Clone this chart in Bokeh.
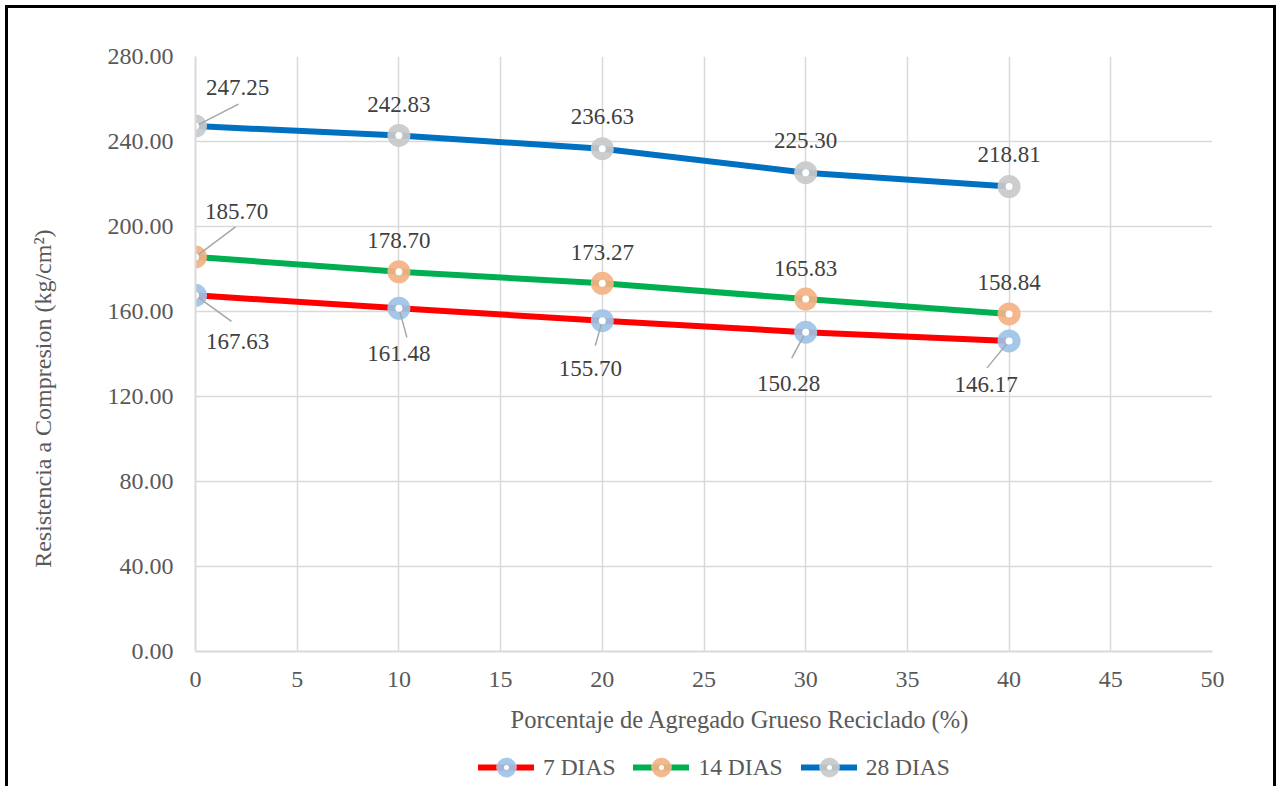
import math
from bokeh.plotting import figure
from bokeh.layouts import column, row
from bokeh.models import (Range1d, Legend, LegendItem, FixedTicker, NumeralTickFormatter,
                          ColumnDataSource)
from bokeh.core.properties import value
from bokeh.embed import file_html
from bokeh.resources import INLINE

# ---------------- data ----------------
pct = [0, 10, 20, 30, 40]
d7 = [167.63, 161.48, 155.70, 150.28, 146.17]
d14 = [185.70, 178.70, 173.27, 165.83, 158.84]
d28 = [247.25, 242.83, 236.63, 225.30, 218.81]
series_names = ["7 DIAS", "14 DIAS", "28 DIAS"]
x_ticks = [0, 5, 10, 15, 20, 25, 30, 35, 40, 45, 50]
y_ticks = [0, 40, 80, 120, 160, 200, 240, 280]
x_title = "Porcentaje de Agregado Grueso Reciclado (%)"
y_title = "Resistencia a Compresion (kg/cm²)"

# ---------------- styles ----------------
line_colors = ["#FF0000", "#00B050", "#0070C0"]
marker_colors = ["#9DC3E6", "#F4B183", "#C9C9C9"]
# label offsets in screen pixels (dx, dy; dy positive = down)
label_offsets = [
    [(42, 46), (0, 45), (-12, 48), (-17, 51), (-23, 44)],
    [(41, -45), (0, -31), (0, -31), (0, -31), (0, -31)],
    [(42, -39), (0, -31), (0, -32), (0, -32), (0, -32)],
]
# leader-line end offsets in pixels (None = no leader)
leader_offsets = [
    [(36, 26), (8, 29), (-7, 25), (-14, 26), (-22, 27)],
    [(40, -30), None, None, None, None],
    [(43, -22), None, None, None, None],
]
FONT = "Liberation Serif"

TW = 60                      # width of the y-title strip
W, H = 1211, 693
ML, MR, MT, MB = 130, 64, 48, 50
fw, fh = 1017, 595
px_x = fw / 50.0
px_y = fh / 280.0

yr = Range1d(0, 280)
p = figure(width=W, height=H, x_range=Range1d(0, 50), y_range=yr,
           output_backend="svg", toolbar_location=None,
           min_border_left=ML, min_border_right=MR, min_border_top=MT, min_border_bottom=MB)
p.styles = {"border-top": "3px solid black", "border-right": "3px solid black",
            "margin-top": "5px"}
p.outline_line_color = None
p.background_fill_color = "white"
p.border_fill_color = "white"

p.xaxis.ticker = FixedTicker(ticks=x_ticks)
p.yaxis.ticker = FixedTicker(ticks=y_ticks)
p.yaxis.formatter = NumeralTickFormatter(format="0.00")
for ax in (p.xaxis, p.yaxis):
    ax.major_tick_line_color = None
    ax.minor_tick_line_color = None
    ax.major_tick_out = 0
    ax.minor_tick_out = 0
    ax.axis_line_color = "#D9D9D9"
    ax.axis_line_width = 2
    ax.major_label_text_font = FONT
    ax.major_label_text_font_size = "24px"
    ax.major_label_text_color = "#595959"
p.xaxis.major_label_standoff = 20
p.yaxis.major_label_standoff = 22
p.xgrid.ticker = FixedTicker(ticks=x_ticks)
p.ygrid.ticker = FixedTicker(ticks=y_ticks)
for g in (p.xgrid, p.ygrid):
    g.grid_line_color = "#D9D9D9"
    g.grid_line_width = 1.5

series = [d7, d14, d28]
for i, ys in enumerate(series):
    p.line(pct, ys, line_color=line_colors[i], line_width=6)
for i, ys in enumerate(series):
    p.scatter(pct, ys, size=23, fill_color=marker_colors[i], line_color=None, fill_alpha=0.92)
# leader lines
for i, ys in enumerate(series):
    x0, y0, x1, y1 = [], [], [], []
    for j, (xv, yv) in enumerate(zip(pct, ys)):
        lo = leader_offsets[i][j]
        if lo is None:
            continue
        x0.append(xv); y0.append(yv)
        x1.append(xv + lo[0] / px_x); y1.append(yv - lo[1] / px_y)
    if x0:
        p.segment(x0=x0, y0=y0, x1=x1, y1=y1, line_color="#A6A6A6", line_width=1.5)
for i, ys in enumerate(series):
    p.scatter(pct, ys, size=7, fill_color="white", line_color=None)
# data labels
for i, ys in enumerate(series):
    src = ColumnDataSource(dict(
        x=pct, y=ys, t=[f"{v:.2f}" for v in ys],
        xo=[o[0] for o in label_offsets[i]], yo=[o[1] for o in label_offsets[i]]))
    p.text(x="x", y="y", text="t", x_offset="xo", y_offset="yo", source=src,
           text_font=value(FONT), text_font_size="23px", text_color="#404040",
           text_align="center", text_baseline="middle")

# ---------------- y-title strip ----------------
pt = figure(width=TW, height=H, output_backend="svg", toolbar_location=None,
            x_range=Range1d(0, TW), y_range=yr, x_axis_type=None, y_axis_type=None,
            min_border_left=0, min_border_right=0, min_border_top=MT, min_border_bottom=MB)
pt.styles = {"border-left": "3px solid black", "border-top": "3px solid black",
             "margin-left": "5px", "margin-top": "5px"}
pt.outline_line_color = None
pt.grid.visible = False
pt.text(x=[34], y=[119], text=[y_title], angle=math.pi / 2,
        text_font=value(FONT), text_font_size="24px", text_color="#595959",
        text_align="center", text_baseline="middle")

# ---------------- x-title + legend strip ----------------
H2 = 789 - 8 - H
p2 = figure(width=1271, height=H2, output_backend="svg", toolbar_location=None,
            x_range=Range1d(0, 1), y_range=Range1d(0, 1),
            x_axis_type=None, y_axis_type=None,
            min_border_left=0, min_border_right=0, min_border_top=0, min_border_bottom=0)
p2.styles = {"border-left": "3px solid black", "border-right": "3px solid black",
             "margin-left": "5px"}
p2.outline_line_color = None
p2.grid.visible = False
p2.text(x=[0], y=[1], text=[x_title], x_offset=502, y_offset=21,
        text_font=value(FONT), text_font_size="24.5px", text_color="#595959",
        text_align="left", text_baseline="middle")
items = []
for i, name in enumerate(series_names):
    lr = p2.line([5, 6], [5, 5], line_color=line_colors[i], line_width=6, line_cap="round")
    mr = p2.scatter([5], [5], marker="circle_dot", fill_color=marker_colors[i],
                    line_color="white", line_width=0.3, fill_alpha=0.92)
    items.append(LegendItem(label=name, renderers=[lr, mr]))
legend = Legend(items=items, location=(470, -6), orientation="horizontal",
                glyph_width=56, glyph_height=50, label_text_font=FONT,
                label_text_font_size="23.5px", label_text_color="#595959",
                padding=0, margin=0, spacing=18, label_standoff=9,
                border_line_color=None, background_fill_alpha=0)
p2.add_layout(legend)

open("out.html", "w").write(file_html(column(row(pt, p), p2), INLINE))
